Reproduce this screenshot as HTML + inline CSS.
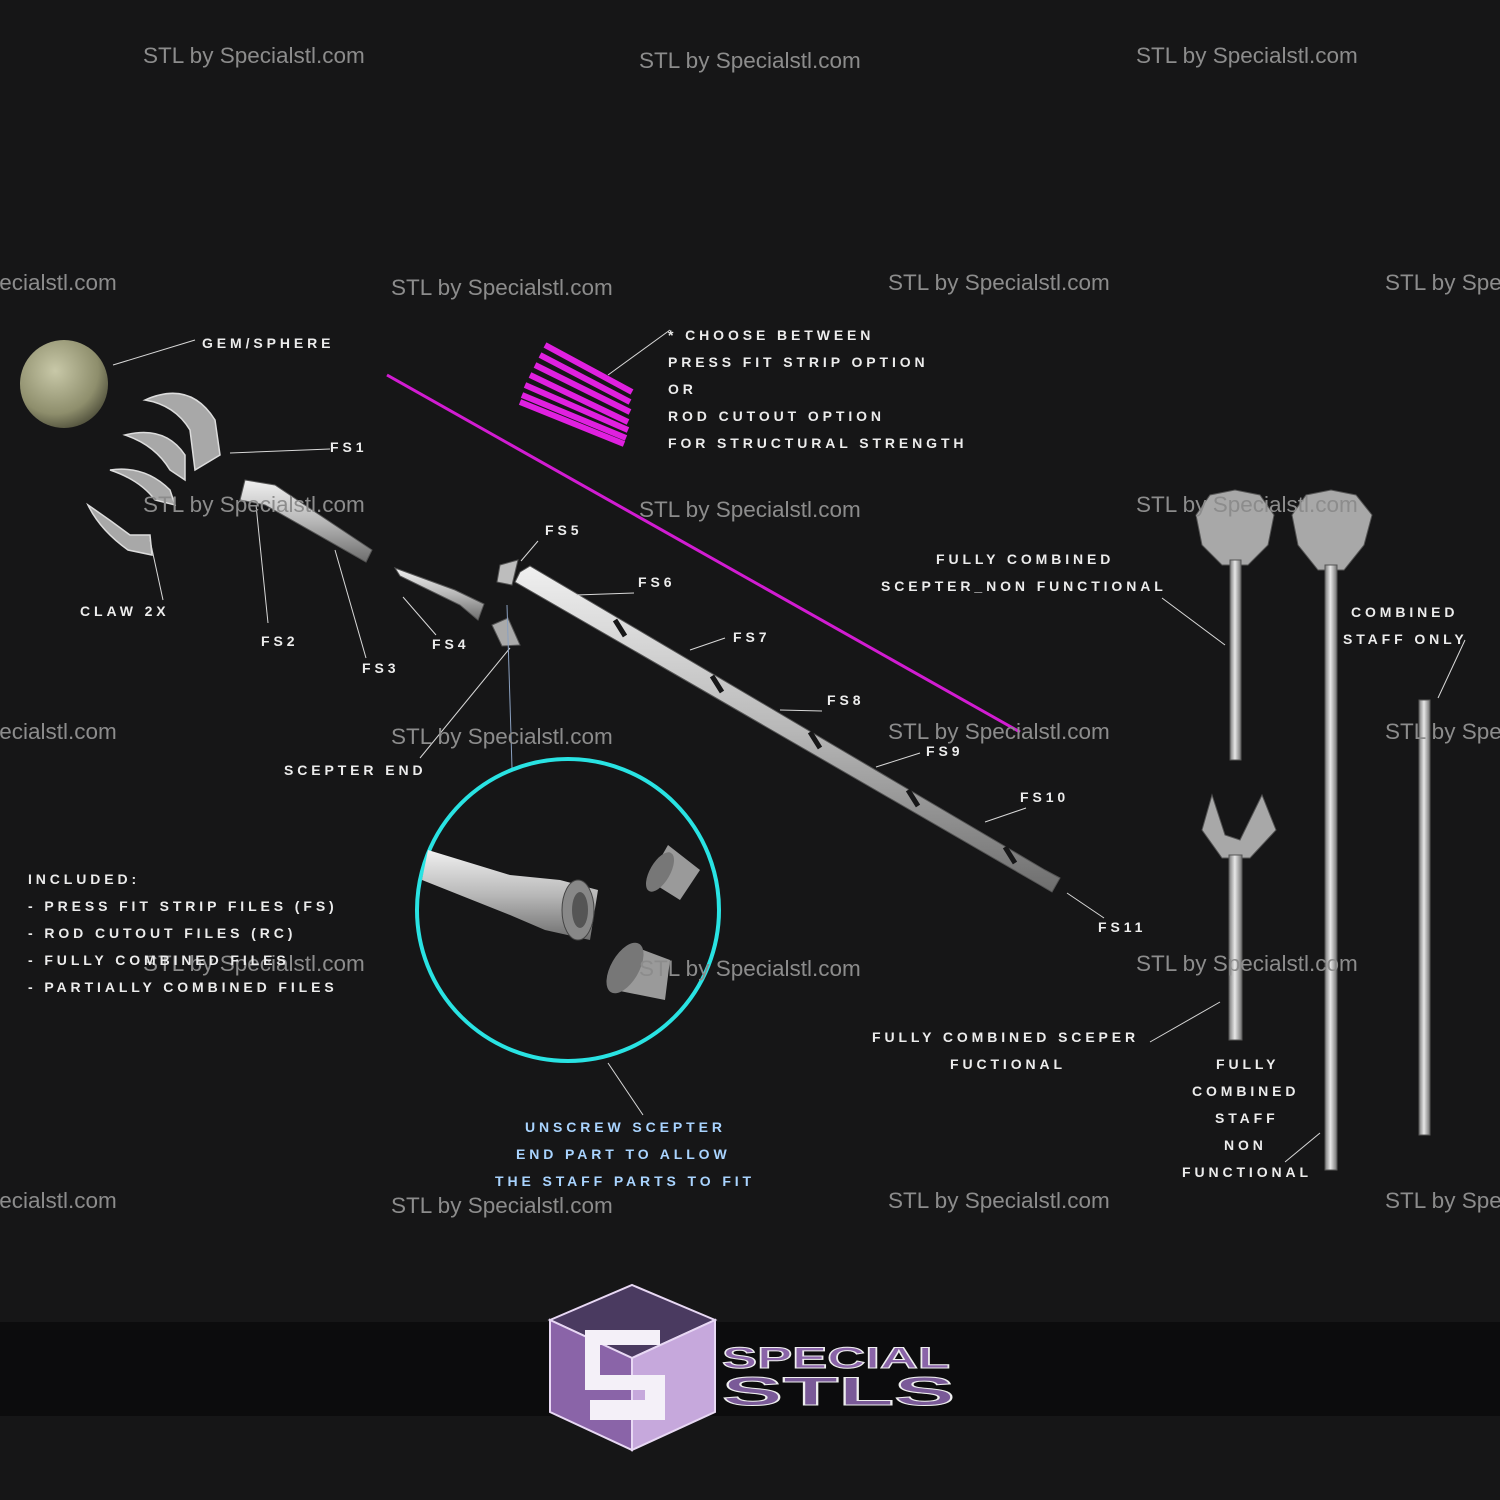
<!DOCTYPE html>
<html><head><meta charset="utf-8"><style>
html,body{margin:0;padding:0;background:#161617;}
svg{display:block}
.l{font-family:"Liberation Sans",sans-serif;font-size:14px;letter-spacing:3.9px;fill:#ececec;font-weight:bold}
.w{font-family:"Liberation Sans",sans-serif;font-size:22.5px;fill:#8c8c8c}
.ln{stroke:#d8d8d8;stroke-width:1;fill:none}
</style></head><body>
<svg width="1500" height="1500" viewBox="0 0 1500 1500" xmlns="http://www.w3.org/2000/svg">
<defs>
<linearGradient id="rod" x1="0" y1="0" x2="0" y2="1"><stop offset="0" stop-color="#f0f0f0"/><stop offset=".5" stop-color="#b8b8b8"/><stop offset="1" stop-color="#6e6e6e"/></linearGradient>
<linearGradient id="vrod" x1="0" y1="0" x2="1" y2="0"><stop offset="0" stop-color="#7a7a7a"/><stop offset=".45" stop-color="#e8e8e8"/><stop offset="1" stop-color="#707070"/></linearGradient>
<radialGradient id="gem" cx=".4" cy=".35" r=".7"><stop offset="0" stop-color="#c8c8a8"/><stop offset=".7" stop-color="#8e8e6c"/><stop offset="1" stop-color="#4e4e3a"/></radialGradient>
</defs>
<rect width="1500" height="1500" fill="#161617"/>
<rect x="0" y="1322" width="1500" height="94" fill="#0c0c0d"/>

<!-- gem -->
<circle cx="64" cy="384" r="44" fill="url(#gem)"/>
<!-- claws -->
<g fill="#a8a8a8" stroke="#dcdcdc" stroke-width="1.5">
<path d="M145 400 Q190 380 215 420 L220 455 L195 470 L190 430 Q175 405 145 400Z"/>
<path d="M125 435 Q165 425 185 455 L185 480 L170 470 Q155 445 125 435Z"/>
<path d="M110 470 Q145 465 170 490 L175 505 L155 500 Q140 480 110 470Z"/>
<path d="M88 505 Q110 520 130 535 L150 535 L152 555 L128 550 Q100 530 88 505Z"/>
</g>
<!-- magenta strips -->
<g stroke="#e020e0" stroke-width="6">
<line x1="545" y1="345" x2="632" y2="392"/><line x1="540" y1="355" x2="630" y2="402"/>
<line x1="535" y1="365" x2="630" y2="412"/><line x1="530" y1="375" x2="628" y2="422"/>
<line x1="525" y1="385" x2="628" y2="430"/><line x1="522" y1="395" x2="626" y2="438"/>
<line x1="520" y1="402" x2="624" y2="444"/>
</g>
<line x1="387" y1="375" x2="1020" y2="732" stroke="#d21cd2" stroke-width="3"/>

<!-- staff pieces -->
<g stroke="#555" stroke-width="1">
<polygon points="245,480 275,485 372,550 366,562 265,505 240,500" fill="url(#rod)"/>
<polygon points="395,568 400,576 460,605 478,620 484,604 455,590" fill="url(#rod)"/>
<polygon points="500,565 518,560 512,585 497,582" fill="#bdbdbd"/>
<polygon points="492,625 508,618 520,645 502,646" fill="#aaa"/>
<polygon points="520,572 530,566 1045,870 1060,878 1052,892 1040,885 515,582" fill="url(#rod)"/>
</g>
<g stroke="#161617" stroke-width="5">
<line x1="615" y1="620" x2="625" y2="636"/><line x1="712" y1="676" x2="722" y2="692"/>
<line x1="810" y1="732" x2="820" y2="748"/><line x1="908" y1="790" x2="918" y2="806"/>
<line x1="1005" y1="847" x2="1015" y2="863"/>
</g>

<!-- leader lines -->
<g class="ln">
<line x1="113" y1="365" x2="195" y2="340"/>
<line x1="230" y1="453" x2="330" y2="449"/>
<line x1="150" y1="540" x2="163" y2="600"/>
<line x1="256" y1="505" x2="268" y2="623"/>
<line x1="335" y1="550" x2="366" y2="658"/>
<line x1="403" y1="597" x2="436" y2="635"/>
<line x1="521" y1="561" x2="538" y2="541"/>
<line x1="576" y1="595" x2="634" y2="593"/>
<line x1="690" y1="650" x2="725" y2="638"/>
<line x1="780" y1="710" x2="822" y2="711"/>
<line x1="876" y1="767" x2="920" y2="753"/>
<line x1="985" y1="822" x2="1026" y2="808"/>
<line x1="1067" y1="893" x2="1104" y2="918"/>
<line x1="608" y1="375" x2="670" y2="330"/>
<line x1="510" y1="648" x2="420" y2="758"/>
<line x1="507" y1="605" x2="512" y2="768" stroke="#8aa0c0"/>
<line x1="608" y1="1063" x2="643" y2="1115"/>
<line x1="1162" y1="598" x2="1225" y2="645"/>
<line x1="1465" y1="640" x2="1438" y2="698"/>
<line x1="1150" y1="1042" x2="1220" y2="1002"/>
<line x1="1285" y1="1162" x2="1320" y2="1133"/>
</g>

<!-- cyan circle with detail -->
<circle cx="568" cy="910" r="151" fill="none" stroke="#29e3e3" stroke-width="4"/>
<polygon points="428,850 510,875 560,880 598,890 590,940 545,930 510,915 422,880" fill="url(#rod)"/>
<ellipse cx="578" cy="910" rx="16" ry="30" fill="#888" stroke="#444"/>
<ellipse cx="580" cy="910" rx="8" ry="18" fill="#555"/>
<polygon points="668,845 700,870 680,900 648,880" fill="#9a9a9a"/>
<ellipse cx="660" cy="872" rx="10" ry="22" fill="#777" transform="rotate(30 660 872)"/>
<polygon points="630,945 670,960 665,1000 615,990" fill="#9a9a9a"/>
<ellipse cx="625" cy="968" rx="14" ry="28" fill="#777" transform="rotate(30 625 968)"/>

<!-- right side sceptres -->
<g stroke="#555" stroke-width="1">
<path d="M1196 515 L1210 495 L1235 490 L1260 495 L1274 515 L1268 545 L1248 565 L1222 565 L1202 545Z" fill="#a8a8a8"/>
<rect x="1230" y="560" width="11" height="200" fill="url(#vrod)"/>
<path d="M1292 515 L1306 495 L1331 490 L1356 495 L1372 515 L1364 545 L1344 570 L1318 570 L1298 545Z" fill="#a8a8a8"/>
<rect x="1325" y="565" width="12" height="605" fill="url(#vrod)"/>
<rect x="1419" y="700" width="11" height="435" fill="url(#vrod)"/>
<path d="M1212 795 L1225 835 L1240 840 L1262 795 L1276 830 L1250 858 L1222 858 L1202 830Z" fill="#a8a8a8"/>
<rect x="1229" y="855" width="13" height="185" fill="url(#vrod)"/>
</g>

<!-- watermarks (on top) -->
<g class="w">
<text x="143" y="63">STL by Specialstl.com</text>
<text x="639" y="68">STL by Specialstl.com</text>
<text x="1136" y="63">STL by Specialstl.com</text>
<text x="-105" y="290">STL by Specialstl.com</text>
<text x="391" y="295">STL by Specialstl.com</text>
<text x="888" y="290">STL by Specialstl.com</text>
<text x="1385" y="290">STL by Specialstl.com</text>
<text x="143" y="512">STL by Specialstl.com</text>
<text x="639" y="517">STL by Specialstl.com</text>
<text x="1136" y="512">STL by Specialstl.com</text>
<text x="-105" y="739">STL by Specialstl.com</text>
<text x="391" y="744">STL by Specialstl.com</text>
<text x="888" y="739">STL by Specialstl.com</text>
<text x="1385" y="739">STL by Specialstl.com</text>
<text x="143" y="971">STL by Specialstl.com</text>
<text x="639" y="976">STL by Specialstl.com</text>
<text x="1136" y="971">STL by Specialstl.com</text>
<text x="-105" y="1208">STL by Specialstl.com</text>
<text x="391" y="1213">STL by Specialstl.com</text>
<text x="888" y="1208">STL by Specialstl.com</text>
<text x="1385" y="1208">STL by Specialstl.com</text>
</g>

<!-- labels -->
<g class="l">
<text x="202" y="348">GEM/SPHERE</text>
<text x="330" y="452">FS1</text>
<text x="80" y="616">CLAW 2X</text>
<text x="261" y="646">FS2</text>
<text x="362" y="673">FS3</text>
<text x="432" y="649">FS4</text>
<text x="545" y="535">FS5</text>
<text x="638" y="587">FS6</text>
<text x="733" y="642">FS7</text>
<text x="827" y="705">FS8</text>
<text x="926" y="756">FS9</text>
<text x="1020" y="802">FS10</text>
<text x="1098" y="932">FS11</text>
<text x="284" y="775">SCEPTER END</text>
<text x="668" y="340">* CHOOSE BETWEEN</text>
<text x="668" y="367">PRESS FIT STRIP OPTION</text>
<text x="668" y="394">OR</text>
<text x="668" y="421">ROD CUTOUT OPTION</text>
<text x="668" y="448">FOR STRUCTURAL STRENGTH</text>
<text x="936" y="564">FULLY COMBINED</text>
<text x="881" y="591">SCEPTER_NON FUNCTIONAL</text>
<text x="1351" y="617">COMBINED</text>
<text x="1343" y="644">STAFF ONLY</text>
<text x="28" y="884">INCLUDED:</text>
<text x="28" y="911">- PRESS FIT STRIP FILES (FS)</text>
<text x="28" y="938">- ROD CUTOUT FILES (RC)</text>
<text x="28" y="965">- FULLY COMBINED FILES</text>
<text x="28" y="992">- PARTIALLY COMBINED FILES</text>
<text x="872" y="1042">FULLY COMBINED SCEPER</text>
<text x="950" y="1069">FUCTIONAL</text>
<text x="1216" y="1069">FULLY</text>
<text x="1192" y="1096">COMBINED</text>
<text x="1215" y="1123">STAFF</text>
<text x="1224" y="1150">NON</text>
<text x="1182" y="1177">FUNCTIONAL</text>
</g>
<g class="l" style="fill:#a9d4ff">
<text x="525" y="1132">UNSCREW SCEPTER</text>
<text x="516" y="1159">END PART TO ALLOW</text>
<text x="495" y="1186">THE STAFF PARTS TO FIT</text>
</g>

<!-- logo -->
<polygon points="550,1320 632,1285 715,1320 632,1358" fill="#4a3a60" stroke="#e8d8f4" stroke-width="2"/>
<polygon points="550,1320 632,1358 632,1450 550,1412" fill="#8a64a8" stroke="#e8d8f4" stroke-width="2"/>
<polygon points="632,1358 715,1320 715,1412 632,1450" fill="#c6a8dc" stroke="#e8d8f4" stroke-width="2"/>
<path d="M600 1330 L660 1330 L660 1345 L600 1345 L600 1375 L665 1375 L665 1420 L590 1420 L590 1400 L645 1400 L645 1390 L585 1390 L585 1330Z" fill="#f4f0f8"/>
<text x="722" y="1368" textLength="228" lengthAdjust="spacingAndGlyphs" style="font-family:'Liberation Sans',sans-serif;font-weight:bold;font-size:30px;fill:#8a64a8;stroke:#eee;stroke-width:1">SPECIAL</text>
<text x="722" y="1405" textLength="233" lengthAdjust="spacingAndGlyphs" style="font-family:'Liberation Sans',sans-serif;font-weight:bold;font-size:40px;fill:#7a5a98;stroke:#eee;stroke-width:1">STLS</text>
</svg>
</body></html>
